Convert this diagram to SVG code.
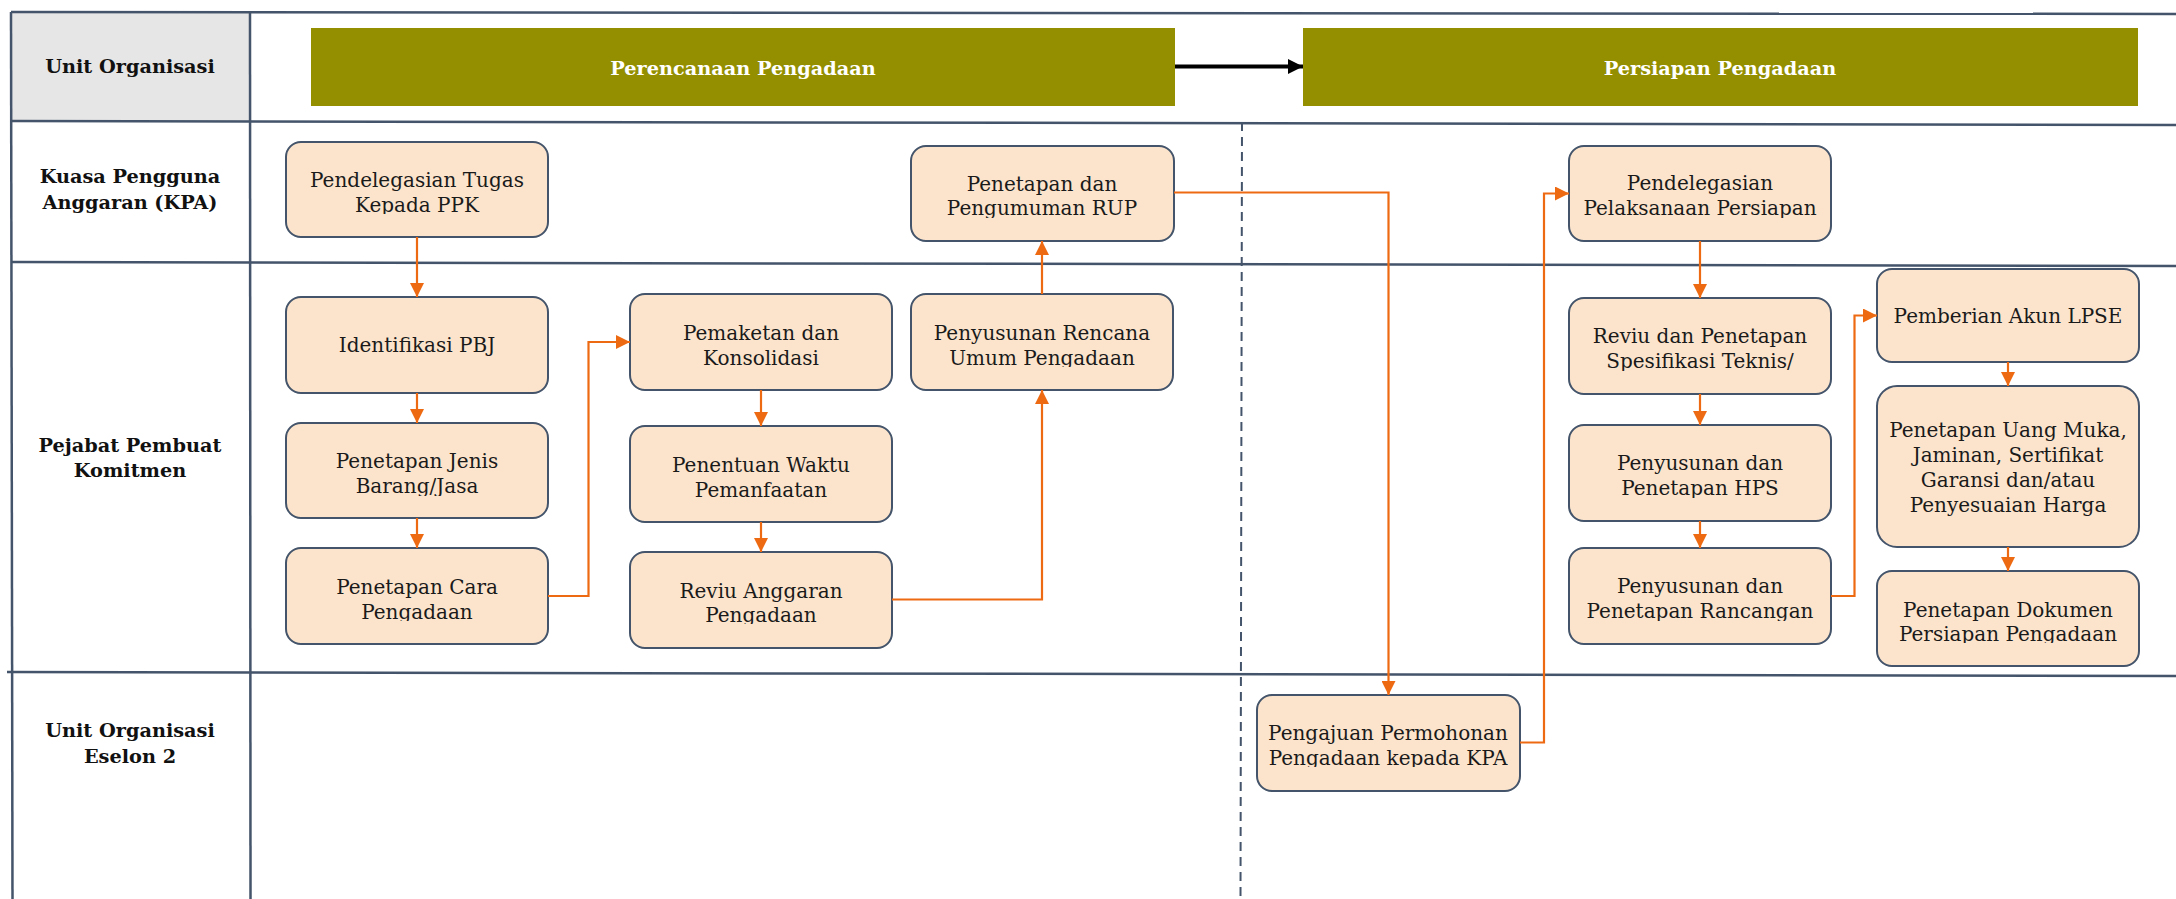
<svg xmlns="http://www.w3.org/2000/svg" width="2176" height="899" viewBox="0 0 2176 899">
  <style>
    .grid { stroke: #44546A; stroke-width: 2.5; fill: none; }
    .dash { stroke: #44546A; stroke-width: 2; fill: none; stroke-dasharray: 9 6; }
    .lane { font-family: "DejaVu Serif", "Liberation Serif", serif; font-weight: bold; font-size: 19.3px; fill: #111; text-anchor: middle; }
    .phase rect { fill: #948F00; }
    .phase text { font-family: "DejaVu Serif", "Liberation Serif", serif; font-weight: bold; font-size: 19.3px; fill: #fff; text-anchor: middle; }
    .node rect { fill: #FCE4CC; stroke: #44546A; stroke-width: 2; }
    .node text { font-family: "DejaVu Serif", "Liberation Serif", serif; font-size: 20px; fill: #1a1a1a; text-anchor: middle; }
    .flow { stroke: #EE6A12; stroke-width: 2.2; fill: none; marker-end: url(#arrow); }
    .phase-link { stroke: #000; stroke-width: 4; fill: none; marker-end: url(#arrowBlack); }
  </style>
  <defs>
    <marker id="arrow" viewBox="0 0 14 14" refX="14" refY="7" markerWidth="14" markerHeight="14" markerUnits="userSpaceOnUse" orient="auto">
      <path d="M0,0 L14,7 L0,14 Z" fill="#EE6A12"/>
    </marker>
    <marker id="arrowBlack" viewBox="0 0 15 15" refX="15" refY="7.5" markerWidth="15" markerHeight="15" markerUnits="userSpaceOnUse" orient="auto">
      <path d="M0,0 L15,7.5 L0,15 Z" fill="#000"/>
    </marker>
    <!-- the last text line of most boxes is cut just under its baseline -->
    <clipPath id="c-tugas"><rect x="286" y="142" width="262" height="72"/></clipPath>
    <clipPath id="c-rup"><rect x="911" y="146" width="263" height="72"/></clipPath>
    <clipPath id="c-pelaksanaan"><rect x="1569" y="146" width="262" height="72"/></clipPath>
    <clipPath id="c-jenis"><rect x="286" y="423" width="262" height="73"/></clipPath>
    <clipPath id="c-cara"><rect x="286" y="548" width="262" height="73"/></clipPath>
    <clipPath id="c-rencana"><rect x="911" y="294" width="262" height="73"/></clipPath>
    <clipPath id="c-anggaran"><rect x="630" y="552" width="262" height="72"/></clipPath>
    <clipPath id="c-spek"><rect x="1569" y="298" width="262" height="73"/></clipPath>
    <clipPath id="c-hps"><rect x="1569" y="425" width="262" height="73"/></clipPath>
    <clipPath id="c-rancangan"><rect x="1569" y="548" width="262" height="73"/></clipPath>
    <clipPath id="c-dokumen"><rect x="1877" y="571" width="262" height="72"/></clipPath>
    <clipPath id="c-pengajuan"><rect x="1257" y="695" width="263" height="72"/></clipPath>
  </defs>

  <!-- swimlane table -->
  <g id="table">
    <rect x="11" y="12" width="239" height="109" fill="#E6E6E6"/>
    <line class="grid" x1="11" y1="12" x2="2176" y2="14"/>
    <line class="grid" x1="11" y1="121" x2="2176" y2="125"/>
    <line class="grid" x1="11" y1="262" x2="2176" y2="266"/>
    <line class="grid" x1="7" y1="672" x2="2176" y2="676"/>
    <line class="grid" x1="11" y1="12" x2="12.5" y2="899"/>
    <line class="grid" x1="250" y1="12" x2="250.5" y2="899"/>
    <line class="dash" x1="1242" y1="122" x2="1240.5" y2="899"/>
  </g>

  <g id="lane-labels">
    <text class="lane" x="130" y="73">Unit Organisasi</text>
    <text class="lane" x="130" y="183">Kuasa Pengguna<tspan x="130" dy="26">Anggaran (KPA)</tspan></text>
    <text class="lane" x="130" y="452">Pejabat Pembuat<tspan x="130" dy="25">Komitmen</tspan></text>
    <text class="lane" x="130" y="737">Unit Organisasi<tspan x="130" dy="26">Eselon 2</tspan></text>
  </g>

  <!-- process phases -->
  <g id="phase-perencanaan" class="phase">
    <rect x="311" y="28" width="864" height="78"/>
    <text x="743" y="75">Perencanaan Pengadaan</text>
  </g>
  <g id="phase-persiapan" class="phase">
    <rect x="1303" y="28" width="835" height="78"/>
    <text x="1720" y="75">Persiapan Pengadaan</text>
  </g>

  <!-- activity boxes -->
  <g id="n-tugas" class="node">
    <rect x="286" y="142" width="262" height="95" rx="15"/>
    <text x="417" y="187" clip-path="url(#c-tugas)">Pendelegasian Tugas<tspan x="417" dy="25">Kepada PPK</tspan></text>
  </g>
  <g id="n-rup" class="node">
    <rect x="911" y="146" width="263" height="95" rx="15"/>
    <text x="1042" y="191" clip-path="url(#c-rup)">Penetapan dan<tspan x="1042" dy="24">Pengumuman RUP</tspan></text>
  </g>
  <g id="n-pelaksanaan" class="node">
    <rect x="1569" y="146" width="262" height="95" rx="15"/>
    <text x="1700" y="190" clip-path="url(#c-pelaksanaan)">Pendelegasian<tspan x="1700" dy="25">Pelaksanaan Persiapan</tspan></text>
  </g>
  <g id="n-identifikasi" class="node">
    <rect x="286" y="297" width="262" height="96" rx="15"/>
    <text x="417" y="352">Identifikasi PBJ</text>
  </g>
  <g id="n-jenis" class="node">
    <rect x="286" y="423" width="262" height="95" rx="15"/>
    <text x="417" y="468" clip-path="url(#c-jenis)">Penetapan Jenis<tspan x="417" dy="25">Barang/Jasa</tspan></text>
  </g>
  <g id="n-cara" class="node">
    <rect x="286" y="548" width="262" height="96" rx="15"/>
    <text x="417" y="594" clip-path="url(#c-cara)">Penetapan Cara<tspan x="417" dy="24.5">Pengadaan</tspan></text>
  </g>
  <g id="n-pemaketan" class="node">
    <rect x="630" y="294" width="262" height="96" rx="15"/>
    <text x="761" y="340">Pemaketan dan<tspan x="761" dy="25">Konsolidasi</tspan></text>
  </g>
  <g id="n-waktu" class="node">
    <rect x="630" y="426" width="262" height="96" rx="15"/>
    <text x="761" y="472">Penentuan Waktu<tspan x="761" dy="25">Pemanfaatan</tspan></text>
  </g>
  <g id="n-anggaran" class="node">
    <rect x="630" y="552" width="262" height="96" rx="15"/>
    <text x="761" y="598" clip-path="url(#c-anggaran)">Reviu Anggaran<tspan x="761" dy="24">Pengadaan</tspan></text>
  </g>
  <g id="n-rencana" class="node">
    <rect x="911" y="294" width="262" height="96" rx="15"/>
    <text x="1042" y="340" clip-path="url(#c-rencana)">Penyusunan Rencana<tspan x="1042" dy="25">Umum Pengadaan</tspan></text>
  </g>
  <g id="n-spek" class="node">
    <rect x="1569" y="298" width="262" height="96" rx="15"/>
    <text x="1700" y="343" clip-path="url(#c-spek)">Reviu dan Penetapan<tspan x="1700" dy="25">Spesifikasi Teknis/</tspan></text>
  </g>
  <g id="n-hps" class="node">
    <rect x="1569" y="425" width="262" height="96" rx="15"/>
    <text x="1700" y="470" clip-path="url(#c-hps)">Penyusunan dan<tspan x="1700" dy="25">Penetapan HPS</tspan></text>
  </g>
  <g id="n-rancangan" class="node">
    <rect x="1569" y="548" width="262" height="96" rx="15"/>
    <text x="1700" y="593" clip-path="url(#c-rancangan)">Penyusunan dan<tspan x="1700" dy="25">Penetapan Rancangan</tspan></text>
  </g>
  <g id="n-lpse" class="node">
    <rect x="1877" y="269" width="262" height="93" rx="15"/>
    <text x="2008" y="323">Pemberian Akun LPSE</text>
  </g>
  <g id="n-uangmuka" class="node">
    <rect x="1877" y="386" width="262" height="161" rx="20"/>
    <text x="2008" y="437">Penetapan Uang Muka,<tspan x="2008" dy="24.5">Jaminan, Sertifikat</tspan><tspan x="2008" dy="25">Garansi dan/atau</tspan><tspan x="2008" dy="25.5">Penyesuaian Harga</tspan></text>
  </g>
  <g id="n-dokumen" class="node">
    <rect x="1877" y="571" width="262" height="95" rx="15"/>
    <text x="2008" y="617" clip-path="url(#c-dokumen)">Penetapan Dokumen<tspan x="2008" dy="24">Persiapan Pengadaan</tspan></text>
  </g>
  <g id="n-pengajuan" class="node">
    <rect x="1257" y="695" width="263" height="96" rx="15"/>
    <text x="1388" y="740" clip-path="url(#c-pengajuan)">Pengajuan Permohonan<tspan x="1388" dy="25">Pengadaan kepada KPA</tspan></text>
  </g>

  <!-- connectors -->
  <g id="connectors">
    <path class="phase-link" d="M1175,66.5 H1303"/>
    <path class="flow" d="M417,237 V297"/>
    <path class="flow" d="M417,393 V423"/>
    <path class="flow" d="M417,518 V548"/>
    <path class="flow" d="M548,596 H588.5 V342 H630"/>
    <path class="flow" d="M761,390 V426"/>
    <path class="flow" d="M761,522 V552"/>
    <path class="flow" d="M892,599.5 H1042 V390"/>
    <path class="flow" d="M1042,294 V241"/>
    <path class="flow" d="M1174,192.5 H1388.5 V695"/>
    <path class="flow" d="M1520,742.5 H1544 V193.5 H1569"/>
    <path class="flow" d="M1700,241 V298"/>
    <path class="flow" d="M1700,394 V425"/>
    <path class="flow" d="M1700,521 V548"/>
    <path class="flow" d="M1831,596 H1854.5 V315.5 H1877"/>
    <path class="flow" d="M2008,362 V386"/>
    <path class="flow" d="M2008,547 V571"/>
  </g>
</svg>
